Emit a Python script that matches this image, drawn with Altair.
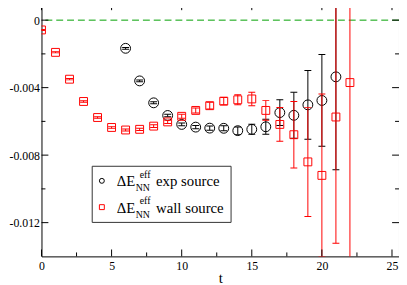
import altair as alt
import pandas as pd

# ---- data ----
t_exp = [6, 7, 8, 9, 10, 11, 12, 13, 14, 15, 16, 17, 18, 19, 20, 21]
exp_val = [-0.00167, -0.0036, -0.0049, -0.00565, -0.00618, -0.00634, -0.0064, -0.00641,
           -0.00655, -0.00647, -0.00632, -0.00548, -0.00564, -0.00502, -0.00476, -0.00336]
exp_err = [0.00005, 0.00005, 0.00006, 0.00007, 0.00008, 0.0001, 0.00012, 0.00015,
           0.00022, 0.0003, 0.00044, 0.00076, 0.00136, 0.00204, 0.00272, 0.0055]

t_wall = list(range(0, 23))
wall_val = [-0.00058, -0.00191, -0.0035, -0.00482, -0.00577, -0.00636, -0.00651, -0.00647,
            -0.00628, -0.00603, -0.0057, -0.00535, -0.00507, -0.0048, -0.00472, -0.00467,
            -0.00535, -0.00618, -0.00679, -0.0084, -0.0092, -0.00574, -0.0037]
wall_err = [0.00003, 0.00003, 0.00004, 0.00004, 0.00005, 0.00005, 0.00006, 0.00007,
            0.00008, 0.0001, 0.00012, 0.00015, 0.0002, 0.00022, 0.0003, 0.0004,
            0.00058, 0.001, 0.00197, 0.00323, 0.00482, 0.00748, 0.012]

x_major = [0, 5, 10, 15, 20, 25]
x_minor = [2.5, 7.5, 12.5, 17.5, 22.5]
y_major = [0, -0.004, -0.008, -0.012]
y_minor = [-0.002, -0.006, -0.010]
legend_labels = ["exp source", "wall source"]

LEFT = 42            # page x of the plot's left edge
W, H = 405 - LEFT, 257
FONT = "Liberation Serif, Times New Roman, Times, DejaVu Serif, serif"
RED = "#ff0000"
GREEN = "#00a000"

exp_df = pd.DataFrame({"t": t_exp, "v": exp_val, "e": exp_err})
exp_df["lo"] = exp_df["v"] - exp_df["e"]
exp_df["hi"] = exp_df["v"] + exp_df["e"]
wall_df = pd.DataFrame({"t": t_wall, "v": wall_val, "e": wall_err})
wall_df["lo"] = wall_df["v"] - wall_df["e"]
wall_df["hi"] = wall_df["v"] + wall_df["e"]

xs = alt.Scale(domain=[0, 25.5], nice=False, zero=False)
ys = alt.Scale(domain=[-0.014, 0.001], nice=False, zero=False)

xaxis = alt.Axis(values=x_major, format="d", ticks=False, tickSize=0, domain=False, grid=False,
                 labelFont=FONT, labelFontSize=12, labelColor="black", labelPadding=4,
                 labelFlush=False, title="t", titleFont=FONT, titleFontSize=15,
                 titleFontWeight="normal", titleColor="black", titlePadding=0)
yaxis = alt.Axis(values=y_major, ticks=False, tickSize=0, domain=False, grid=False,
                 labelExpr="datum.value == 0 ? '0' : '-' + format(abs(datum.value), '.3f')",
                 labelFont=FONT, labelFontSize=12, labelColor="black", labelPadding=2,
                 labelFlush=False, title=None)


def X(f="t"):
    return alt.X(f"{f}:Q", scale=xs, axis=xaxis)


def Y(f="v"):
    return alt.Y(f"{f}:Q", scale=ys, axis=yaxis)


layers = []

# zero line
layers.append(alt.Chart(pd.DataFrame({"v": [0]})).mark_rule(
    color=GREEN, strokeDash=[7, 4], strokeWidth=1).encode(y=Y()))


def series(df, color, shape, size):
    out = []
    out.append(alt.Chart(df).mark_rule(color=color, strokeWidth=1, clip=True).encode(
        x=X(), y=Y("lo"), y2="hi:Q"))
    for f in ["lo", "hi"]:
        out.append(alt.Chart(df).mark_tick(orient="horizontal", size=7, thickness=1,
                                           color=color, clip=True, opacity=1).encode(
            x=X(), y=Y(f)))
    out.append(alt.Chart(df).mark_point(shape=shape, filled=False, color=color, size=size,
                                        strokeWidth=1, opacity=1, clip=True).encode(
        x=X(), y=Y()))
    return out


layers += series(exp_df, "black", "circle", 100)
layers += series(wall_df, RED, "square", 64)

# inward ticks on all four sides
xmaj = pd.DataFrame({"t": x_major})
xmin = pd.DataFrame({"t": x_minor})
ymaj = pd.DataFrame({"v": y_major})
ymin = pd.DataFrame({"v": y_minor})
for d, L in [(xmaj, 7), (xmin, 4)]:
    layers.append(alt.Chart(d).mark_rule(color="black").encode(
        x=X(), y=alt.value(H), y2=alt.value(H - L)))
    layers.append(alt.Chart(d).mark_rule(color="black").encode(
        x=X(), y=alt.value(0), y2=alt.value(L)))
for d, L in [(ymaj, 7), (ymin, 4)]:
    layers.append(alt.Chart(d).mark_rule(color="black").encode(
        y=Y(), x=alt.value(0), x2=alt.value(L)))
    layers.append(alt.Chart(d).mark_rule(color="black").encode(
        y=Y(), x=alt.value(W), x2=alt.value(W - L)))

# manual legend (positions given in page pixels, converted to plot pixels)
def px(x):
    return x - LEFT


def py(y):
    return y - 1


one = pd.DataFrame({"k": [0]})
layers.append(alt.Chart(one).mark_rect(fill="white", stroke="#333333", strokeWidth=1).encode(
    x=alt.value(px(93.5)), x2=alt.value(px(234.5)), y=alt.value(py(166.5)),
    y2=alt.value(py(223.5))))


def txt(s, x, y, size):
    return alt.Chart(one).mark_text(text=s, font=FONT, fontSize=size, align="left",
                                    baseline="alphabetic", color="black").encode(
        x=alt.value(px(x)), y=alt.value(py(y)))


rows = [(181.3, 187, "black", "circle"), (208, 213.7, RED, "square")]
for (sy, base, col, shp), lab in zip(rows, legend_labels):
    layers.append(alt.Chart(one).mark_point(shape=shp, filled=False, color=col, size=25,
                                            strokeWidth=1, opacity=1).encode(
        x=alt.value(px(103.3)), y=alt.value(py(sy))))
    layers.append(txt("\u0394E", 118.3, base, 15))
    layers.append(txt("NN", 137.7, base + 5, 10))
    layers.append(txt("eff", 141.7, base - 9, 10))
    layers.append(txt(lab, 158.3, base, 15))

chart = alt.layer(*layers).properties(
    width=W, height=H,
    padding={"left": LEFT - 8, "top": -7, "right": 0, "bottom": 36},
    autosize=alt.AutoSizeParams(type="none"),
    background="white",
).configure_view(stroke="black", strokeWidth=1)

chart.save("out.html", embed_options={"renderer": "svg", "actions": False})
